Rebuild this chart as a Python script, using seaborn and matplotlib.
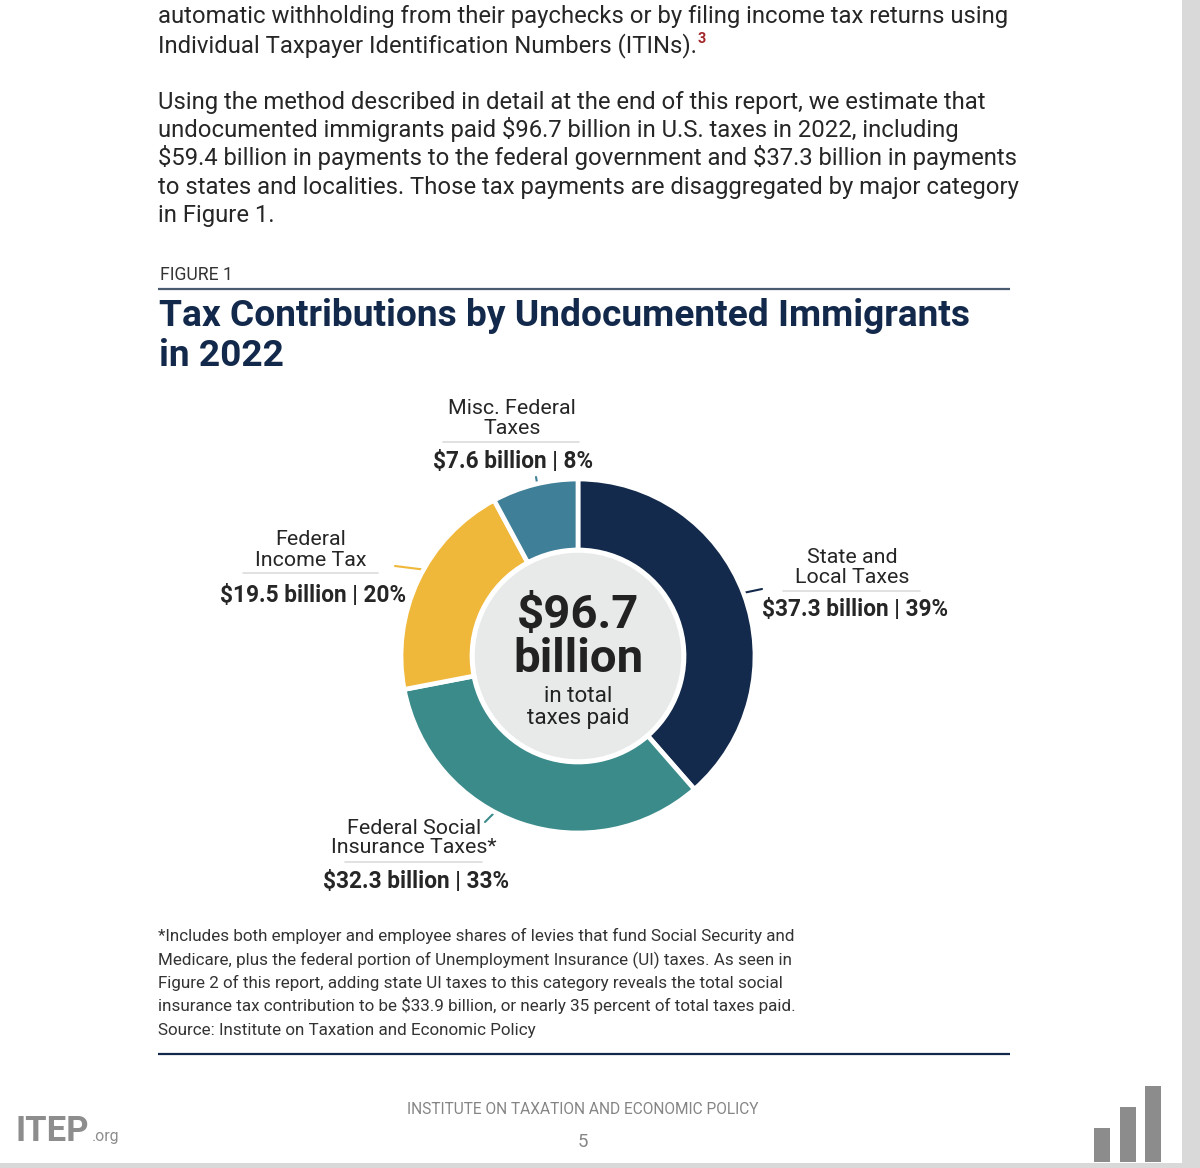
import numpy as np
import pandas as pd
import matplotlib
matplotlib.use("Agg")
import matplotlib.pyplot as plt
from matplotlib.patches import Circle, Rectangle
import seaborn as sns

# ---------------- data ----------------
categories = ["State and\nLocal Taxes", "Federal Social\nInsurance Taxes*",
              "Federal\nIncome Tax", "Misc. Federal\nTaxes"]
values = [37.3, 32.3, 19.5, 7.6]          # $ billion
percents = [39, 33, 20, 8]
colors = ["#132a4c", "#3c8b8b", "#f0b83a", "#3f7f98"]
total_value = 96.7

title_lines = ["Tax Contributions by Undocumented Immigrants", "in 2022"]
body_lines = [
    "automatic withholding from their paychecks or by filing income tax returns using",
    "Individual Taxpayer Identification Numbers (ITINs).",
    "Using the method described in detail at the end of this report, we estimate that",
    "undocumented immigrants paid $96.7 billion in U.S. taxes in 2022, including",
    "$59.4 billion in payments to the federal government and $37.3 billion in payments",
    "to states and localities. Those tax payments are disaggregated by major category",
    "in Figure 1.",
]
note_lines = [
    "*Includes both employer and employee shares of levies that fund Social Security and",
    "Medicare, plus the federal portion of Unemployment Insurance (UI) taxes. As seen in",
    "Figure 2 of this report, adding state UI taxes to this category reveals the total social",
    "insurance tax contribution to be $33.9 billion, or nearly 35 percent of total taxes paid.",
    "Source: Institute on Taxation and Economic Policy",
]
logo_bar_heights = [34, 55, 76]

# ---------------- style ----------------
sns.set_theme(style="white")
plt.rcParams["font.family"] = ["Roboto", "DejaVu Sans"]
plt.rcParams["text.parse_math"] = False

W, H = 1200, 1168
fig = plt.figure(figsize=(W / 100, H / 100), dpi=100)
fig.patch.set_facecolor("white")
ax = fig.add_axes([0, 0, 1, 1])
ax.set_xlim(0, W)
ax.set_ylim(H, 0)
ax.axis("off")

renderer = fig.canvas.get_renderer()


def fit_size(s, target_w, size0=20, **kw):
    t = ax.text(0, 0, s, fontsize=size0, **kw)
    w = t.get_window_extent(renderer).width
    t.remove()
    return size0 * target_w / w


TXT = "#262626"

# ---------------- body text ----------------
body_fs = fit_size(body_lines[4], 860)
body_base = [23, 52, 109, 137, 165, 194, 222]
for s, yb in zip(body_lines, body_base):
    t = ax.text(158, yb, s, fontsize=body_fs, color=TXT, va="baseline", ha="left")
    if s.endswith("(ITINs)."):
        bb = t.get_window_extent(renderer)
        ax.text(bb.x1 + 1, yb - 9, "3", fontsize=body_fs * 0.6, color="#a3262a",
                fontweight="bold", va="baseline", ha="left")

# ---------------- figure header ----------------
fs_fig = fit_size("FIGURE 1", 73)
ax.text(160, 280, "FIGURE 1", fontsize=fs_fig, color="#333333", va="baseline", ha="left")
ax.plot([158, 1010], [289, 289], color="#4a5a70", lw=1.6, solid_capstyle="butt")

title_fs = fit_size(title_lines[0], 808, fontweight="bold")
for s, yb in zip(title_lines, [326, 366]):
    ax.text(159, yb, s, fontsize=title_fs, fontweight="bold", color="#13294b",
            va="baseline", ha="left")

# ---------------- donut ----------------
cx, cy = 578, 656
R_out, R_in = 177, 106
ax_pie = fig.add_axes([(cx - 200) / W, (H - cy - 200) / H, 400 / W, 400 / H])
ax_pie.pie(values, colors=colors, startangle=90, counterclock=False, radius=R_out,
           center=(0, 0),
           wedgeprops=dict(width=R_out - R_in, edgecolor="white", linewidth=3.4))
ax_pie.add_patch(Circle((0, 0), R_in - 1, facecolor="#e8e9e9", edgecolor="white", lw=2.5, zorder=5))
ax_pie.set_xlim(-200, 200)
ax_pie.set_ylim(-200, 200)
ax_pie.set_aspect("equal")
ax_pie.axis("off")
ax_pie.patch.set_visible(False)

center_fs = fit_size("billion", 130, fontweight="bold")
ax_pie.text(0, cy - 628, f"${total_value}", fontsize=center_fs, fontweight="bold",
            color="#222222", ha="center", va="baseline", zorder=10)
ax_pie.text(0, cy - 672, "billion", fontsize=center_fs, fontweight="bold",
            color="#222222", ha="center", va="baseline", zorder=10)
sub_fs = fit_size("taxes paid", 102)
ax_pie.text(0, cy - 702, "in total", fontsize=sub_fs, color="#222222",
            ha="center", va="baseline", zorder=10)
ax_pie.text(0, cy - 724, "taxes paid", fontsize=sub_fs, color="#222222",
            ha="center", va="baseline", zorder=10)

# ---------------- labels ----------------
layout = [
    dict(nx=852, nb=[563, 583], sep=(783, 920, 591), vx=855, vb=616, lead=((743, 593), (762, 589))),
    dict(nx=414, nb=[834, 853], sep=(345, 482, 862), vx=416, vb=888, lead=((485, 822), (497, 810))),
    dict(nx=311, nb=[545, 566], sep=(243, 378, 573), vx=313, vb=602, lead=((395, 566), (427, 570))),
    dict(nx=512, nb=[414, 434], sep=(443, 579, 442), vx=513, vb=468, lead=((536, 477), (538, 488))),
]
name_fs = fit_size("Federal Social", 134)
val_fs = fit_size("$37.3 billion | 39%", 186, fontweight="bold")
for cat, v, p, c, L in zip(categories, values, percents, colors, layout):
    for line, yb in zip(cat.split("\n"), L["nb"]):
        ax.text(L["nx"], yb, line, fontsize=name_fs, color=TXT, ha="center", va="baseline")
    x0, x1, ys = L["sep"]
    ax.plot([x0, x1], [ys, ys], color="#dcdcdc", lw=1.2)
    ax.text(L["vx"], L["vb"], f"${v} billion | {p}%", fontsize=val_fs, fontweight="bold",
            color=TXT, ha="center", va="baseline")
    (a, b), (cc, d) = L["lead"]
    ax.plot([a, cc], [b, d], color=c, lw=1.5)

# ---------------- notes ----------------
note_fs = fit_size(note_lines[3], 637)
for s, yb in zip(note_lines, [941, 965, 988, 1011, 1035]):
    ax.text(158, yb, s, fontsize=note_fs, color="#333333", va="baseline", ha="left")
ax.plot([158, 1010], [1054, 1054], color="#13294b", lw=1.6, solid_capstyle="butt")

# ---------------- footer ----------------
foot_fs = fit_size("INSTITUTE ON TAXATION AND ECONOMIC POLICY", 354)
ax.text(583, 1114, "INSTITUTE ON TAXATION AND ECONOMIC POLICY", fontsize=foot_fs,
        color="#858585", ha="center", va="baseline")
ax.text(583, 1147, "5", fontsize=foot_fs * 1.2, color="#858585",
        ha="center", va="baseline")

logo_fs = fit_size("ITEP", 73, fontweight="bold")
t_logo = ax.text(16, 1141, "ITEP", fontsize=logo_fs, fontweight="bold", color="#8d8d8d",
                 ha="left", va="baseline")
lb = t_logo.get_window_extent(renderer)
ax.text(lb.x1 + 2, 1141, ".org", fontsize=logo_fs * 0.46, color="#8d8d8d", ha="left", va="baseline")

for i, h in enumerate(logo_bar_heights):
    x = 1094 + i * 25.5
    ax.add_patch(Rectangle((x, 1162 - h), 16, h, facecolor="#8c8c8d", edgecolor="none"))

# viewer frame
ax.add_patch(Rectangle((1182, 0), 18, H, facecolor="#d9d9d9", edgecolor="none"))
ax.add_patch(Rectangle((0, 1163), W, 5, facecolor="#d9d9d9", edgecolor="none"))

fig.savefig("out.png", dpi=100, facecolor="white")
